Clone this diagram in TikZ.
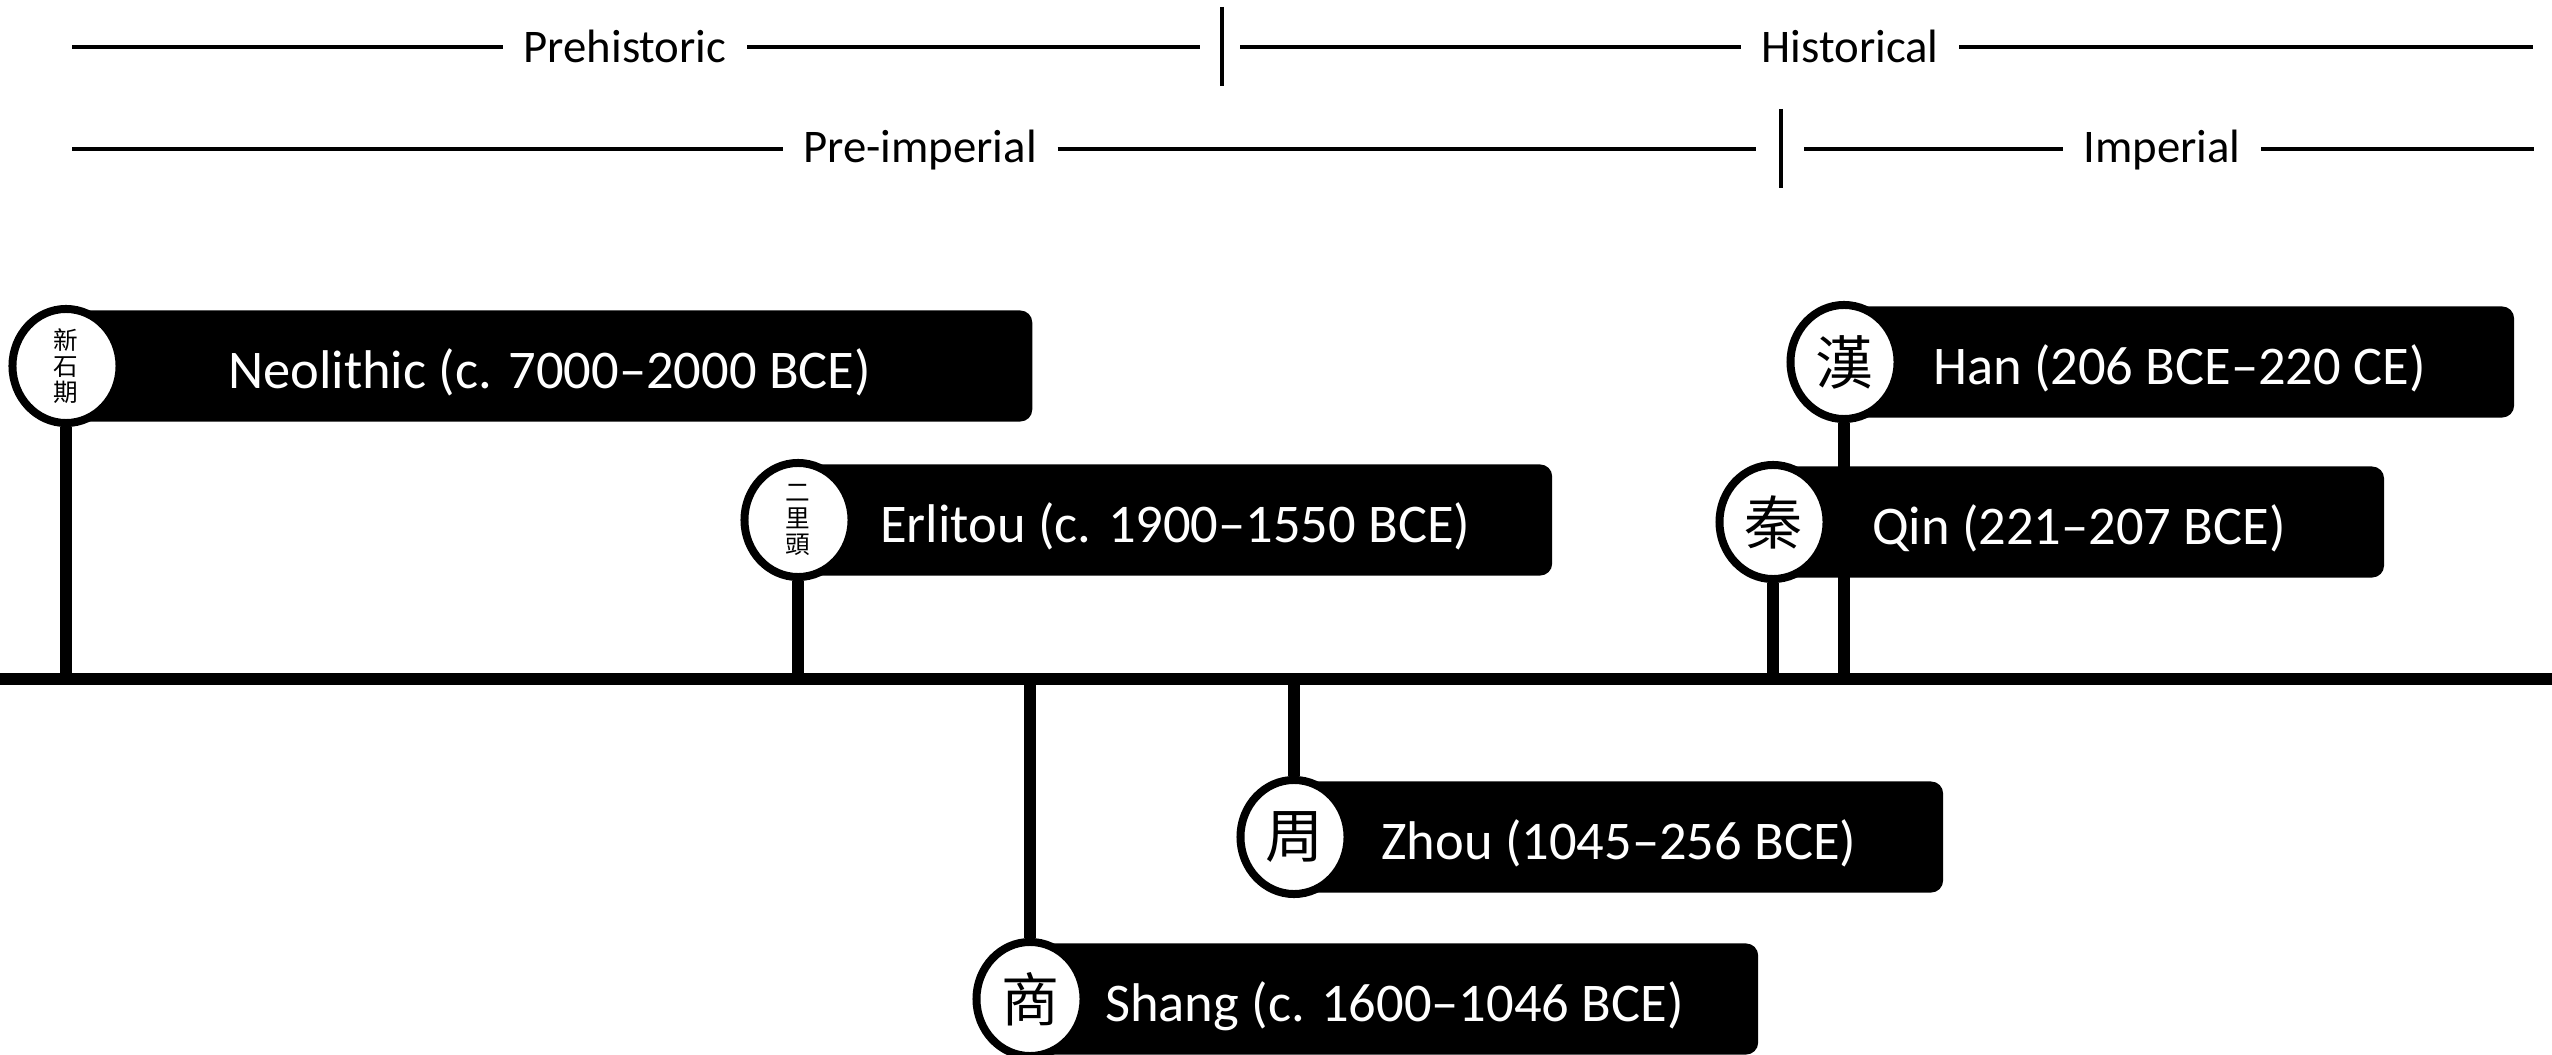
\documentclass[tikz,border=0pt]{standalone}
\usepackage{fontspec}
\setmainfont{Carlito}
\newfontfamily\cjk{Noto Sans CJK TC}
\usetikzlibrary{shapes.geometric,backgrounds}

\tikzset{
  era line/.style={line width=0.04cm},
  era label/.style={anchor=base,inner xsep=0.2cm,inner ysep=0pt,
    font=\fontsize{13.3}{16}\selectfont},
  dynbox/.style={fill=black,text=white,rounded corners=0.12cm,anchor=west,
    minimum height=1.11cm,inner sep=0pt,text height=0.55cm,text depth=0.11cm,
    font=\fontsize{15.5}{18}\selectfont},
  seal/.style={ellipse,draw,fill=white,line width=0.08cm,inner sep=0pt,
    minimum width=1.07cm,minimum height=1.14cm,font=\cjk\fontsize{16.5}{16.5}\selectfont},
  seal small/.style={seal,align=center,font=\cjk\fontsize{7}{7.4}\selectfont},
  stem/.style={line width=0.12cm}
}

\begin{document}
\begin{tikzpicture}[x=0.01cm,y=-0.01cm]
  \useasboundingbox (0,0) rectangle (2552,1055);

  % eras on top
  \node[era label] (prehist) at (625,63) {Prehistoric};
  \node[era label] (hist) at (1850,63) {Historical};
  \node[era label] (preimp) at (920,163) {Pre-imperial};
  \node[era label] (imp) at (2162,163) {Imperial};
  \coordinate (r1l) at (72,47);
  \coordinate (r1s) at (1222,47);
  \coordinate (r1r) at (2533,47);
  \coordinate (r2l) at (72,149);
  \coordinate (r2s) at (1781,149);
  \coordinate (r2r) at (2534,149);
  \draw[era line] (r1l) -- (prehist.west |- r1l);
  \draw[era line] (prehist.east |- r1l) -- ([xshift=-0.22cm]r1s);
  \draw[era line] ([yshift=0.4cm]r1s) -- ([yshift=-0.39cm]r1s);
  \draw[era line] ([xshift=0.18cm]r1s) -- (hist.west |- r1l);
  \draw[era line] (hist.east |- r1l) -- (r1r);
  \draw[era line] (r2l) -- (preimp.west |- r2l);
  \draw[era line] (preimp.east |- r2l) -- ([xshift=-0.25cm]r2s);
  \draw[era line] ([yshift=0.4cm]r2s) -- ([yshift=-0.39cm]r2s);
  \draw[era line] ([xshift=0.23cm]r2s) -- (imp.west |- r2l);
  \draw[era line] (imp.east |- r2l) -- (r2r);

  % dynasties
  \node[dynbox,minimum width=9.65cm] (neobox) at (66,366) {Neolithic (c. 7000–2000 BCE)};
  \node[seal small] (neo) at (66,366) {新\\石\\期};
  \node[dynbox,minimum width=7.53cm] (erlbox) at (798,520) {Erlitou (c. 1900–1550 BCE)};
  \node[seal small] (erl) at (798,520) {二\\里\\頭};
  \node[dynbox,minimum width=7.27cm] (shangbox) at (1030,999) {Shang (c. 1600–1046 BCE)};
  \node[seal] (shang) at (1030,999) {商};
  \node[dynbox,minimum width=6.48cm] (zhoubox) at (1294,837) {Zhou (1045–256 BCE)};
  \node[seal] (zhou) at (1294,837) {周};
  \node[dynbox,minimum width=6.10cm] (qinbox) at (1773,522) {Qin (221–207 BCE)};
  \node[seal] (qin) at (1773,522) {秦};
  \node[dynbox,minimum width=6.69cm] (hanbox) at (1844,362) {Han (206 BCE–220 CE)};
  \node[seal] (han) at (1844,362) {漢};

  % timeline and stems
  \begin{scope}[on background layer]
    \coordinate (tl) at (0,679);
    \coordinate (tr) at (2552,679);
    \draw[stem] (tl) -- (tr);
    \draw[stem] (neo) -- (neo |- tl);
    \draw[stem] (erl) -- (erl |- tl);
    \draw[stem] (shang) -- (shang |- tl);
    \draw[stem] (zhou) -- (zhou |- tl);
    \draw[stem] (qin) -- (qin |- tl);
    \draw[stem] (han) -- (han |- tl);
  \end{scope}
\end{tikzpicture}
\end{document}
